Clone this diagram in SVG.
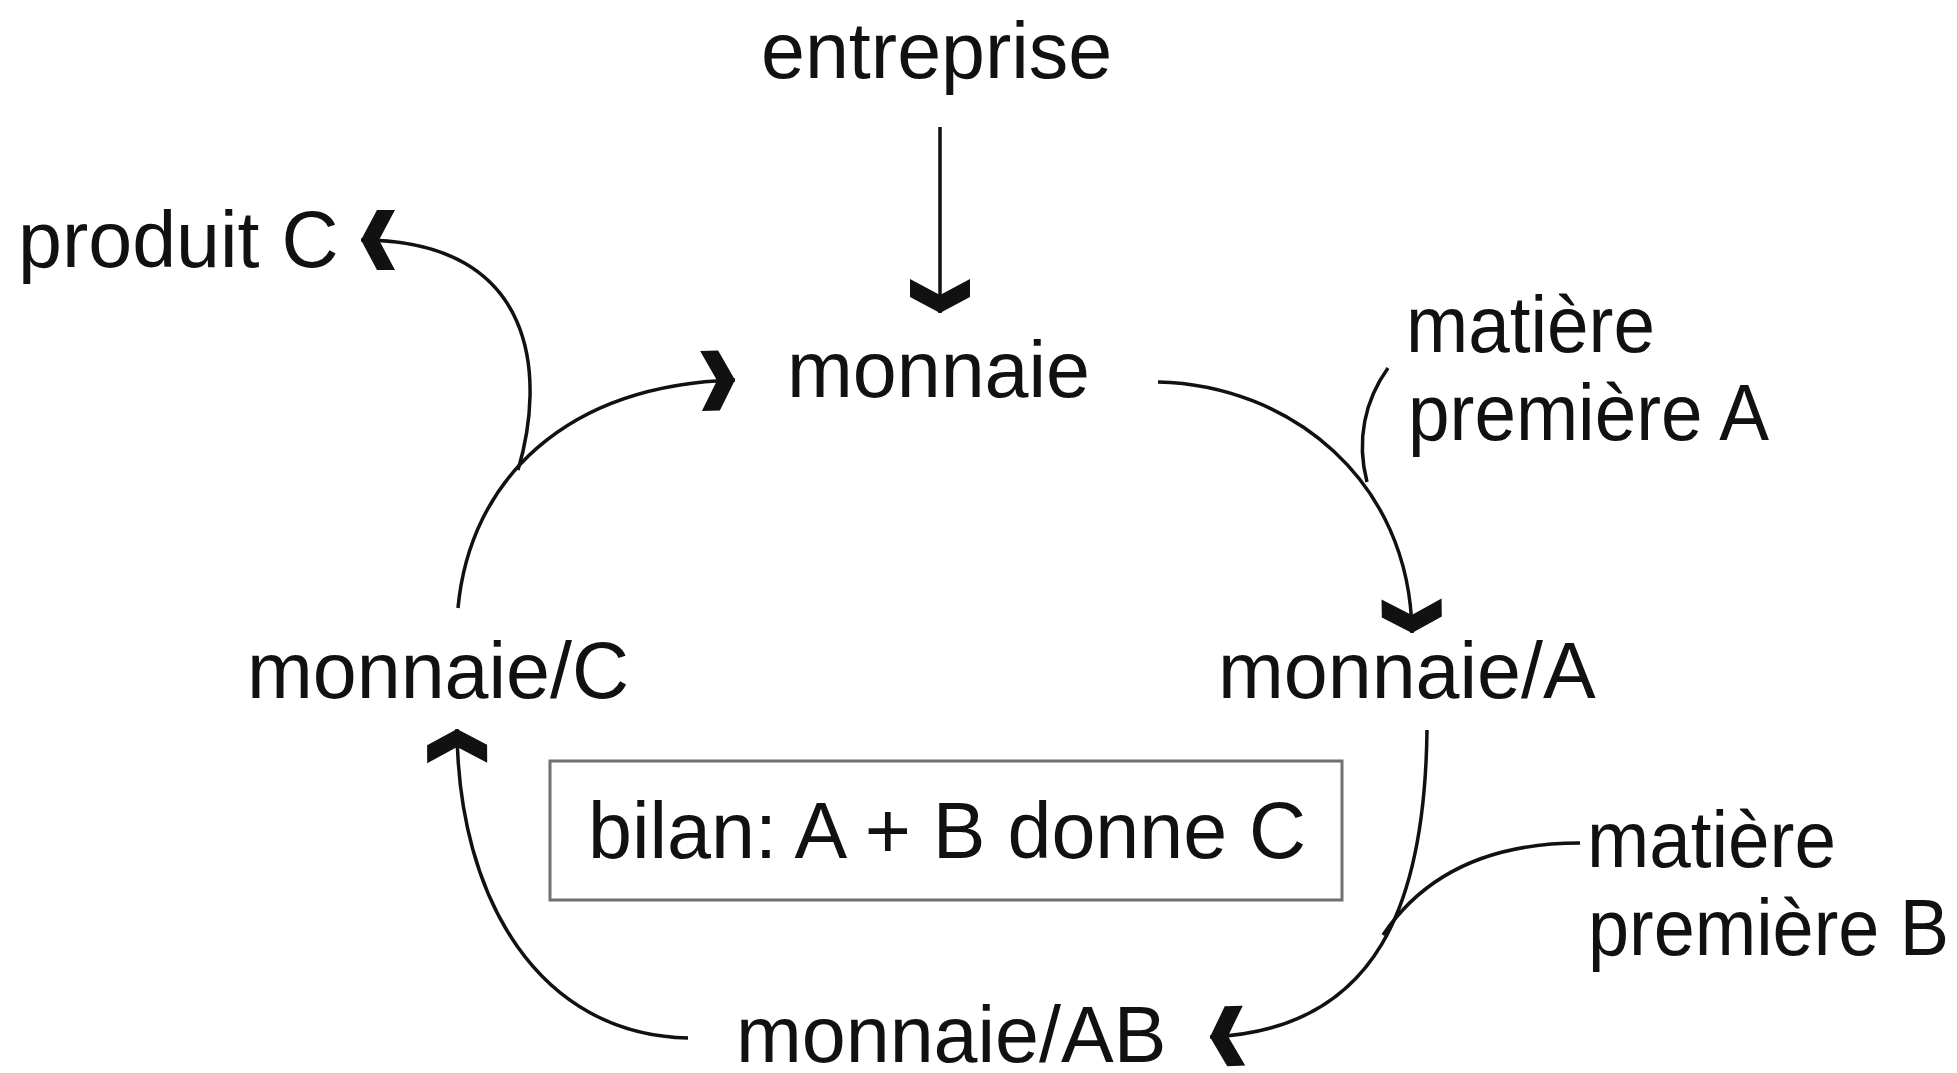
<svg xmlns="http://www.w3.org/2000/svg" width="1957" height="1073" viewBox="0 0 1957 1073">
  <style>
    .lbl { font-family: "Liberation Sans", Arial, Helvetica, sans-serif; font-size: 79px; fill: #111; }
    .flow { fill: none; stroke: #111; stroke-width: 3.5; stroke-linecap: butt; }
    .flow-head { fill: none; stroke: #111; stroke-width: 3.5; marker-end: url(#chev); }
    .frame { fill: #fff; stroke: #707070; stroke-width: 3; }
  </style>
  <defs>
    <!-- bold chevron arrowhead, tip at the path end -->
    <marker id="chev" viewBox="-36 -33 38 66" refX="0" refY="0" markerWidth="38" markerHeight="66" markerUnits="userSpaceOnUse" orient="auto">
      <path d="M0,0 L-16,-30 L-34,-30 L-18,0 L-34,30 L-16,30 Z" fill="#111"/>
    </marker>
  </defs>
  <rect width="1957" height="1073" fill="#fff"/>

  <g id="connectors">
    <!-- entreprise -> monnaie -->
    <path class="flow-head" d="M940,127 L940,313"/>
    <!-- monnaie -> monnaie/A -->
    <path class="flow-head" d="M1158,382 C1290,385 1410,480 1412,633"/>
    <!-- matière première A joins -->
    <path class="flow" d="M1388,368 C1365,400 1356,440 1367,482"/>
    <!-- monnaie/A -> monnaie/AB -->
    <path class="flow-head" d="M1427,730 C1425,900 1380,1030 1210,1037"/>
    <!-- matière première B joins -->
    <path class="flow" d="M1580,843 C1480,843 1420,880 1383,935"/>
    <!-- monnaie/AB -> monnaie/C -->
    <path class="flow-head" d="M688,1038 C540,1035 458,900 457,729"/>
    <!-- monnaie/C -> monnaie -->
    <path class="flow-head" d="M458,608 C470,480 565,385 735,380"/>
    <!-- branch to produit C -->
    <path class="flow-head" d="M518,470 C545,380 540,240 361,240"/>
  </g>

  <g id="entreprise"><text class="lbl" x="761" y="78">entreprise</text></g>
  <g id="monnaie"><text class="lbl" x="787" y="397">monnaie</text></g>
  <g id="produit-c"><text class="lbl" x="18" y="267">produit C</text></g>
  <g id="matiere-a">
    <text class="lbl" x="1406" y="352" textLength="249" lengthAdjust="spacingAndGlyphs">matière</text>
    <text class="lbl" x="1408" y="440" textLength="361" lengthAdjust="spacingAndGlyphs">première A</text>
  </g>
  <g id="monnaie-a"><text class="lbl" x="1218" y="698">monnaie/A</text></g>
  <g id="monnaie-c"><text class="lbl" x="247" y="698">monnaie/C</text></g>
  <g id="bilan">
    <rect class="frame" x="550" y="761" width="792" height="139"/>
    <text class="lbl" x="588" y="858">bilan: A + B donne C</text>
  </g>
  <g id="matiere-b">
    <text class="lbl" x="1587" y="867" textLength="249" lengthAdjust="spacingAndGlyphs">matière</text>
    <text class="lbl" x="1588" y="955" textLength="361" lengthAdjust="spacingAndGlyphs">première B</text>
  </g>
  <g id="monnaie-ab"><text class="lbl" x="736" y="1062">monnaie/AB</text></g>
</svg>
